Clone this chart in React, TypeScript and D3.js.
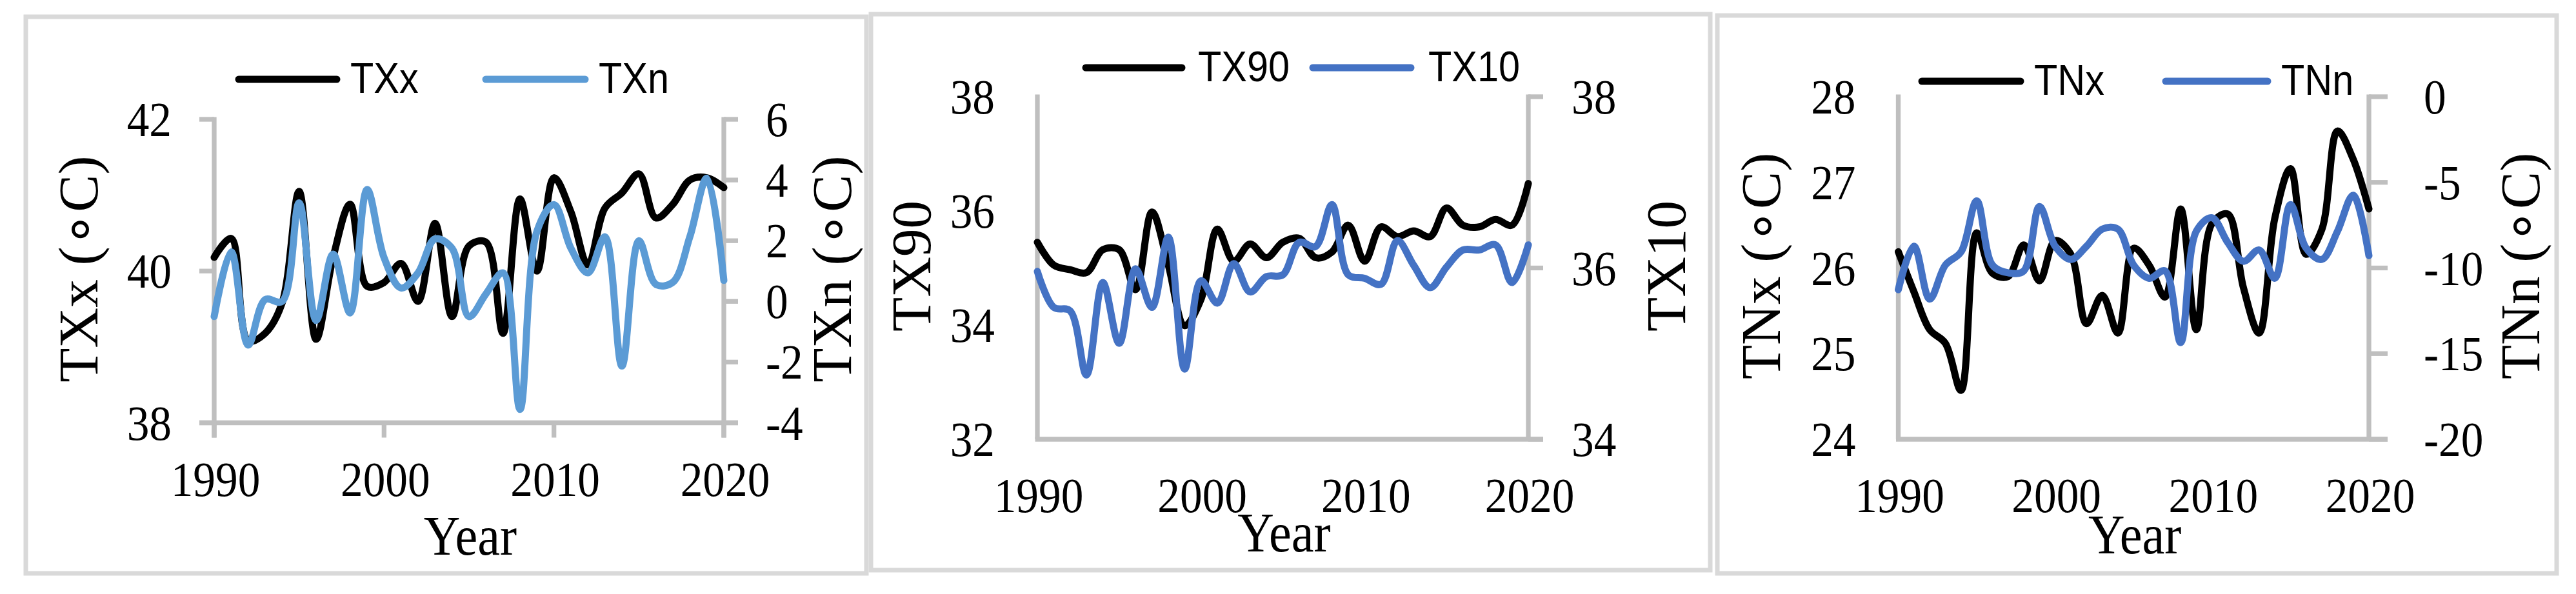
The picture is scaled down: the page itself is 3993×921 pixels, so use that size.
import React from "react";
import * as d3 from "d3";

// ---------- DATA ----------
const years = [
  1990, 1991, 1992, 1993, 1994, 1995, 1996, 1997, 1998, 1999, 2000, 2001, 2002, 2003, 2004, 2005,
  2006, 2007, 2008, 2009, 2010, 2011, 2012, 2013, 2014, 2015, 2016, 2017, 2018, 2019, 2020,
];
const xTicks = [1990, 2000, 2010, 2020];

const TXx = [
  40.18, 40.43, 39.08, 39.18, 39.58, 41.05, 39.1, 40.18, 40.88, 39.8, 39.85, 40.1, 39.6, 40.63, 39.4,
  40.33, 40.38, 39.18, 40.95, 40.0, 41.23, 40.78, 40.08, 40.83, 41.03, 41.28, 40.7, 40.88, 41.2, 41.23, 41.1,
];
const TXn = [
  -0.5, 1.63, -1.44, 0.06, 0.0, 3.25, -0.63, 1.56, -0.38, 3.69, 1.44, 0.44, 0.94, 2.06, 1.75, -0.5,
  0.25, 0.94, -3.56, 2.31, 3.19, 1.75, 0.94, 2.13, -2.13, 2.0, 0.56, 0.63, 2.13, 4.06, 0.69,
];
const TX90 = [
  35.45, 35.05, 34.97, 34.92, 35.32, 35.32, 34.62, 35.98, 35.05, 33.99, 34.45, 35.68, 35.12, 35.42, 35.18,
  35.45, 35.52, 35.18, 35.28, 35.75, 35.12, 35.72, 35.55, 35.65, 35.55, 36.05, 35.75, 35.72, 35.85, 35.75, 36.48,
];
const TX10 = [
  35.96, 35.54, 35.5, 34.75, 35.83, 35.12, 35.99, 35.54, 36.36, 34.82, 35.85, 35.59, 36.05, 35.72, 35.9,
  35.92, 36.3, 36.25, 36.74, 35.92, 35.88, 35.81, 36.32, 36.03, 35.77, 36.01, 36.21, 36.21, 36.27, 35.83, 36.27,
];
const TNx = [
  26.19, 25.72, 25.28, 25.12, 24.57, 26.41, 25.94, 25.9, 26.27, 25.85, 26.32, 26.16, 25.35, 25.68, 25.24,
  26.23, 26.03, 25.66, 26.69, 25.28, 26.52, 26.63, 25.77, 25.24, 26.58, 27.16, 26.16, 26.45, 27.6, 27.27, 26.69,
];
const TNn = [
  -11.27, -8.73, -11.82, -9.83, -9.06, -6.08, -9.83, -10.28, -10.17, -6.41, -8.73, -9.5, -8.73, -7.73, -7.73,
  -9.83, -10.6, -10.17, -14.36, -7.85, -7.07, -8.51, -9.61, -8.95, -10.6, -6.3, -8.84, -9.5, -7.85, -5.75, -9.28,
];

const ticksTXx = [38, 40, 42];
const ticksTXn = [-4, -2, 0, 2, 4, 6];
const ticksTX90 = [32, 34, 36, 38];
const ticksTX10 = [34, 36, 38];
const ticksTNx = [24, 25, 26, 27, 28];
const ticksTNn = [-20, -15, -10, -5, 0];

// ---------- STYLE ----------
const AXIS = "#bfbfbf";
const BORDER = "#d9d9d9";
const BLACK = "#000000";
const BLUE_LIGHT = "#5b9bd5";
const BLUE = "#4472c4";
const SERIF = "'Liberation Serif', 'Times New Roman', serif";
const SANS = "'Liberation Sans', Arial, sans-serif";
const SX = 0.9;

type PanelCfg = {
  border: [number, number, number, number];
  xRange: [number, number];
  top: number;
  bottom: number;
  left: { name: string; values: number[]; ticks: number[]; color: string; title: string; titleX: number };
  right: { name: string; values: number[]; ticks: number[]; color: string; title: string; titleX: number };
  leftTickMarks: boolean;
  xTickMarks: boolean;
  rightTickLen: number;
  rightLabelDx: number;
  yearBaseline: number;
  legend: { y: number; l1: [number, number]; t1: number; l2: [number, number]; t2: number; base: number };
};

const panels: PanelCfg[] = [
  {
    border: [40, 26, 1343, 889],
    xRange: [332, 1122],
    top: 185,
    bottom: 655.5,
    left: { name: "TXx", values: TXx, ticks: ticksTXx, color: BLACK, title: "TXx (∘C)", titleX: 151 },
    right: { name: "TXn", values: TXn, ticks: ticksTXn, color: BLUE_LIGHT, title: "TXn (∘C)", titleX: 1319 },
    leftTickMarks: true,
    xTickMarks: true,
    rightTickLen: 22,
    rightLabelDx: 65,
    yearBaseline: 860,
    legend: { y: 123, l1: [370, 522], t1: 543, l2: [753, 907], t2: 928, base: 144 },
  },
  {
    border: [1350, 22, 2651, 884],
    xRange: [1608, 2369],
    top: 150,
    bottom: 681,
    left: { name: "TX90", values: TX90, ticks: ticksTX90, color: BLACK, title: "TX90", titleX: 1442 },
    right: { name: "TX10", values: TX10, ticks: ticksTX10, color: BLUE, title: "TX10", titleX: 2612 },
    leftTickMarks: false,
    xTickMarks: false,
    rightTickLen: 23,
    rightLabelDx: 67,
    yearBaseline: 855,
    legend: { y: 105, l1: [1683, 1832], t1: 1857, l2: [2035, 2187], t2: 2214, base: 126 },
  },
  {
    border: [2662, 24, 3963, 889],
    xRange: [2942.5, 3672],
    top: 150,
    bottom: 681,
    left: { name: "TNx", values: TNx, ticks: ticksTNx, color: BLACK, title: "TNx (∘C)", titleX: 2759 },
    right: { name: "TNn", values: TNn, ticks: ticksTNn, color: BLUE, title: "TNn (∘C)", titleX: 3936 },
    leftTickMarks: false,
    xTickMarks: false,
    rightTickLen: 29,
    rightLabelDx: 85,
    yearBaseline: 858,
    legend: { y: 126, l1: [2979, 3132], t1: 3153, l2: [3357, 3515], t2: 3536, base: 147 },
  },
];

function SText(props: {
  x: number;
  y: number;
  size: number;
  anchor?: string;
  family?: string;
  children: React.ReactNode;
}) {
  const { x, y, size, anchor = "start", family = SERIF, children } = props;
  return (
    <text
      transform={`translate(${x},${y}) scale(${SX},1)`}
      fontSize={size}
      fontFamily={family}
      textAnchor={anchor}
      fill="#000"
    >
      {children}
    </text>
  );
}

function Panel({ cfg }: { cfg: PanelCfg }) {
  const x = d3.scaleLinear().domain([1990, 2020]).range(cfg.xRange);
  const lt = cfg.left.ticks;
  const rt = cfg.right.ticks;
  const yL = d3.scaleLinear().domain([lt[0], lt[lt.length - 1]]).range([cfg.bottom, cfg.top]);
  const yR = d3.scaleLinear().domain([rt[0], rt[rt.length - 1]]).range([cfg.bottom, cfg.top]);
  const lineL = d3
    .line<number>()
    .x((_, i) => x(years[i]))
    .y((d) => yL(d))
    .curve(d3.curveCatmullRom.alpha(0.5));
  const lineR = d3
    .line<number>()
    .x((_, i) => x(years[i]))
    .y((d) => yR(d))
    .curve(d3.curveCatmullRom.alpha(0.5));
  const [bx0, by0, bx1, by1] = cfg.border;
  const x0 = cfg.xRange[0];
  const x1 = cfg.xRange[1];
  const tl = 23;
  const leftStart = cfg.leftTickMarks ? x0 - tl : x0 - 3.5;
  const rightEnd = x1 + cfg.rightTickLen;
  const sw = 7.3;
  const midY = (cfg.top + cfg.bottom) / 2 - 3;
  const midX = (x0 + x1) / 2;
  const lg = cfg.legend;
  return (
    <g>
      <rect x={bx0} y={by0} width={bx1 - bx0} height={by1 - by0} fill="#fff" stroke={BORDER} strokeWidth={7} />
      {/* axes */}
      <line x1={x0} x2={x0} y1={cfg.top - 3.5} y2={cfg.bottom + (cfg.xTickMarks ? tl : 0)} stroke={AXIS} strokeWidth={sw} />
      <line x1={x1} x2={x1} y1={cfg.top - 3.5} y2={cfg.bottom + (cfg.xTickMarks ? tl : 0)} stroke={AXIS} strokeWidth={sw} />
      <line x1={leftStart} x2={rightEnd} y1={cfg.bottom} y2={cfg.bottom} stroke={AXIS} strokeWidth={sw} />
      {cfg.leftTickMarks &&
        lt.map((t) => (
          <line key={"lt" + t} x1={x0 - tl} x2={x0} y1={yL(t)} y2={yL(t)} stroke={AXIS} strokeWidth={sw} />
        ))}
      {rt.map((t) => (
        <line key={"rt" + t} x1={x1} x2={rightEnd} y1={yR(t)} y2={yR(t)} stroke={AXIS} strokeWidth={sw} />
      ))}
      {cfg.xTickMarks &&
        xTicks.map((t) => (
          <line key={"xt" + t} x1={x(t)} x2={x(t)} y1={cfg.bottom} y2={cfg.bottom + tl} stroke={AXIS} strokeWidth={sw} />
        ))}
      {/* tick labels */}
      {lt.map((t) => (
        <SText key={"ll" + t} x={x0 - 66} y={yL(t) + 26} size={77} anchor="end">
          {t}
        </SText>
      ))}
      {rt.map((t) => (
        <SText key={"rl" + t} x={x1 + cfg.rightLabelDx} y={yR(t) + 26} size={77} anchor="start">
          {t < 0 ? "-" + Math.abs(t) : String(t)}
        </SText>
      ))}
      {xTicks.map((t) => (
        <SText key={"xl" + t} x={x(t) + 2} y={cfg.bottom + 113} size={77} anchor="middle">
          {t}
        </SText>
      ))}
      <SText x={midX + 2} y={cfg.yearBaseline} size={87} anchor="middle">
        Year
      </SText>
      {/* axis titles */}
      <text
        transform={`translate(${cfg.left.titleX},${midY}) rotate(-90)`}
        fontSize={87}
        fontFamily={SERIF}
        textAnchor="middle"
      >
        {cfg.left.title}
      </text>
      <text
        transform={`translate(${cfg.right.titleX},${midY}) rotate(-90)`}
        fontSize={87}
        fontFamily={SERIF}
        textAnchor="middle"
      >
        {cfg.right.title}
      </text>
      {/* data */}
      <path d={lineL(cfg.left.values) || ""} fill="none" stroke={cfg.left.color} strokeWidth={11} strokeLinejoin="round" strokeLinecap="round" />
      <path d={lineR(cfg.right.values) || ""} fill="none" stroke={cfg.right.color} strokeWidth={11} strokeLinejoin="round" strokeLinecap="round" />
      {/* legend */}
      <line x1={lg.l1[0]} x2={lg.l1[1]} y1={lg.y} y2={lg.y} stroke={cfg.left.color} strokeWidth={11} strokeLinecap="round" />
      <SText x={lg.t1} y={lg.base} size={66} family={SANS}>
        {cfg.left.name}
      </SText>
      <line x1={lg.l2[0]} x2={lg.l2[1]} y1={lg.y} y2={lg.y} stroke={cfg.right.color} strokeWidth={11} strokeLinecap="round" />
      <SText x={lg.t2} y={lg.base} size={66} family={SANS}>
        {cfg.right.name}
      </SText>
    </g>
  );
}

export default function App() {
  return (
    <svg
      width={3993}
      height={921}
      viewBox="0 0 3993 921"
      style={{ position: "absolute", left: 0, top: 0, background: "#fff" }}
    >
      <rect x={0} y={0} width={3993} height={921} fill="#fff" />
      {panels.map((p, i) => (
        <Panel key={i} cfg={p} />
      ))}
    </svg>
  );
}
